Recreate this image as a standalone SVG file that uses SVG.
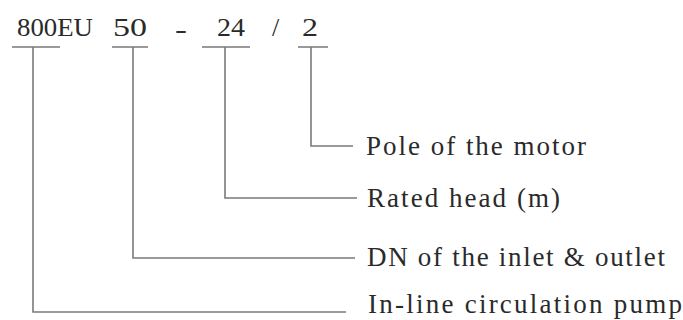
<svg xmlns="http://www.w3.org/2000/svg" width="683" height="320" viewBox="0 0 683 320">
<style>
text{font-family:"Liberation Serif","Times New Roman",serif;fill:#2a2a2a;font-size:27px}
.code{font-size:26px}
.ln{stroke:#7a7a7a;stroke-width:1.6;fill:none}
</style>
<rect width="683" height="320" fill="#fff"/>
<g id="code">
<text class="code" x="17" y="36" textLength="76" lengthAdjust="spacingAndGlyphs">800EU</text>
<text class="code" x="113" y="36" textLength="34" lengthAdjust="spacingAndGlyphs">50</text>
<text class="code" x="175" y="38" textLength="12" lengthAdjust="spacingAndGlyphs">-</text>
<text class="code" x="217" y="36" textLength="28" lengthAdjust="spacingAndGlyphs">24</text>
<text class="code" x="272" y="36">/</text>
<text class="code" x="302" y="36" textLength="16" lengthAdjust="spacingAndGlyphs">2</text>
</g>
<g id="connectors">
<path class="ln" d="M12 47H60M112 47H148M202 47H250M298 47H328"/>
<path class="ln" d="M33 47V312H346"/>
<path class="ln" d="M133 47V258H355"/>
<path class="ln" d="M225 47V198H357"/>
<path class="ln" d="M311 47V146H353"/>
</g>
<g id="pole"><text x="366" y="155" textLength="220" lengthAdjust="spacing">Pole of the motor</text></g>
<g id="head"><text x="367" y="207" textLength="193" lengthAdjust="spacing">Rated head (m)</text></g>
<g id="dn"><text x="367" y="266" textLength="298" lengthAdjust="spacing">DN of the inlet &amp; outlet</text></g>
<g id="pump"><text x="368" y="313" textLength="314" lengthAdjust="spacing">In-line circulation pump</text></g>
</svg>
